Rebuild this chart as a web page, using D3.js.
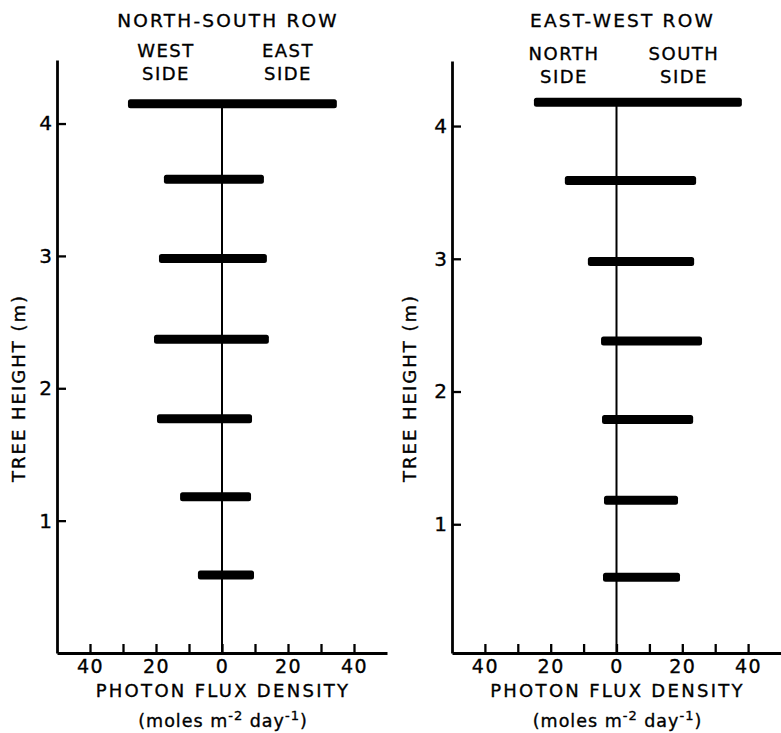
<!DOCTYPE html>
<html>
<head>
<meta charset="utf-8">
<script src="https://cdn.jsdelivr.net/npm/d3@7/dist/d3.min.js"></script>
<style>
  html, body { margin: 0; padding: 0; background: #fff; }
  svg { display: block; }
  text { font-family: "DejaVu Sans", sans-serif; fill: #000; stroke: #000; stroke-width: 0.35px; }
</style>
</head>
<body>
<svg id="chart" width="781" height="733"></svg>
<script>
// ---------- data ----------
const panelTitles = ["NORTH-SOUTH ROW", "EAST-WEST ROW"];
const leftSideLabels = [["WEST", "SIDE"], ["NORTH", "SIDE"]];
const rightSideLabels = [["EAST", "SIDE"], ["SOUTH", "SIDE"]];

// North-South row (photon flux density, west side / east side)
const nsHeights = [4.15, 3.58, 2.98, 2.37, 1.77, 1.18, 0.59];
const nsWest    = [28.5, 17.6, 19.1, 20.6, 19.7, 12.7, 7.3];
const nsEast    = [34.8, 12.7, 13.6, 14.2, 9.1, 8.8, 9.7];

// East-West row (north side / south side)
const ewHeights = [4.18, 3.59, 2.98, 2.38, 1.79, 1.18, 0.60];
const ewNorth   = [25.1, 15.7, 8.7, 4.7, 4.4, 3.8, 4.1];
const ewSouth   = [38.1, 24.2, 23.6, 26.0, 23.3, 18.7, 19.3];

const xTicks = [-40, -30, -20, -10, 0, 10, 20, 30, 40];
const xTickLabels = [-40, -20, 0, 20, 40];
const yTicks = [1, 2, 3, 4];
const xAxisTitle = "PHOTON FLUX DENSITY";
const yAxisTitle = "TREE HEIGHT (m)";

// ---------- drawing ----------
const svg = d3.select("#chart");

function drawPanel(p) {
  const g = svg.append("g");
  const x = d3.scaleLinear().domain([-50, 50]).range(p.xRange);
  const y = d3.scaleLinear().domain(p.yDomain).range(p.yRange);

  // bars
  const rows = p.heights.map((h, i) => ({ h, l: p.left[i], r: p.right[i] }));
  const bh = 9;
  g.selectAll("rect.bar").data(rows).enter().append("rect")
    .attr("class", "bar")
    .attr("x", d => x(-d.l))
    .attr("y", d => y(d.h) - bh / 2)
    .attr("width", d => x(d.r) - x(-d.l))
    .attr("height", bh)
    .attr("rx", 2.5)
    .attr("fill", "#000");

  // centre line
  g.append("line")
    .attr("x1", x(0)).attr("x2", x(0))
    .attr("y1", y(d3.max(p.heights))).attr("y2", y(p.yDomain[0]))
    .attr("stroke", "#000").attr("stroke-width", 2);

  // x axis
  const xAxis = d3.axisBottom(x)
    .tickValues(xTicks)
    .tickSizeInner(-9)
    .tickSizeOuter(0)
    .tickPadding(10)
    .tickFormat(d => xTickLabels.includes(d) ? String(Math.abs(d)) : "");
  const gx = g.append("g")
    .attr("transform", `translate(0,${y(p.yDomain[0])})`)
    .call(xAxis);
  gx.select(".domain").attr("stroke-width", 2.8).attr("stroke", "#000");
  gx.selectAll(".tick line").attr("stroke-width", 2.3).attr("stroke", "#000");
  gx.selectAll(".tick text")
    .style("font-family", "DejaVu Sans, sans-serif")
    .attr("font-size", 19).attr("letter-spacing", 1.5).attr("dy", "0.55em");

  // y axis
  const yAxis = d3.axisLeft(y)
    .tickValues(yTicks)
    .tickSizeInner(-9)
    .tickSizeOuter(0)
    .tickPadding(5)
    .tickFormat(d3.format("d"));
  const gy = g.append("g")
    .attr("transform", `translate(${p.xRange[0]},0)`)
    .call(yAxis);
  gy.select(".domain").attr("stroke-width", 2.8).attr("stroke", "#000");
  gy.selectAll(".tick line").attr("stroke-width", 2.3).attr("stroke", "#000");
  gy.selectAll(".tick text")
    .style("font-family", "DejaVu Sans, sans-serif")
    .attr("font-size", 20);

  const cx = x(0);
  // title
  g.append("text")
    .attr("x", cx + 6).attr("y", 27)
    .attr("text-anchor", "middle")
    .attr("font-size", 18.5).attr("letter-spacing", 2.2)
    .text(p.title);

  // side labels
  [[p.leftLabel, p.leftLabelX], [p.rightLabel, p.rightLabelX]].forEach(([lab, lx]) => {
    lab.forEach((t, i) => {
      g.append("text")
        .attr("x", lx).attr("y", p.sideY + i * 23)
        .attr("text-anchor", "middle")
        .attr("font-size", 18).attr("letter-spacing", 1.5)
        .text(t);
    });
  });

  // x axis title
  g.append("text")
    .attr("x", cx + 1).attr("y", 697)
    .attr("text-anchor", "middle")
    .attr("font-size", 18).attr("letter-spacing", 2.3)
    .text(xAxisTitle);

  const unit = g.append("text")
    .attr("x", cx + 1).attr("y", 727)
    .attr("text-anchor", "middle")
    .attr("font-size", 17.5).attr("letter-spacing", 1);
  unit.append("tspan").text("(moles m");
  unit.append("tspan").attr("dy", -7).attr("font-size", 13).text("-2");
  unit.append("tspan").attr("dy", 7).text(" day");
  unit.append("tspan").attr("dy", -7).attr("font-size", 13).text("-1");
  unit.append("tspan").attr("dy", 7).text(")");

  // y axis title
  g.append("text")
    .attr("transform", `translate(${p.yTitleX},388) rotate(-90)`)
    .attr("text-anchor", "middle")
    .attr("font-size", 18).attr("letter-spacing", 2)
    .text(yAxisTitle);
}

drawPanel({
  xRange: [57, 387], yDomain: [0, 4.48], yRange: [653, 60],
  heights: nsHeights, left: nsWest, right: nsEast,
  title: panelTitles[0],
  leftLabel: leftSideLabels[0], rightLabel: rightSideLabels[0],
  leftLabelX: 166, rightLabelX: 288, sideY: 57,
  yTitleX: 25
});

drawPanel({
  xRange: [452, 781], yDomain: [0.03, 4.49], yRange: [653, 61],
  heights: ewHeights, left: ewNorth, right: ewSouth,
  title: panelTitles[1],
  leftLabel: leftSideLabels[1], rightLabel: rightSideLabels[1],
  leftLabelX: 564, rightLabelX: 684, sideY: 60,
  yTitleX: 416
});
</script>
</body>
</html>
